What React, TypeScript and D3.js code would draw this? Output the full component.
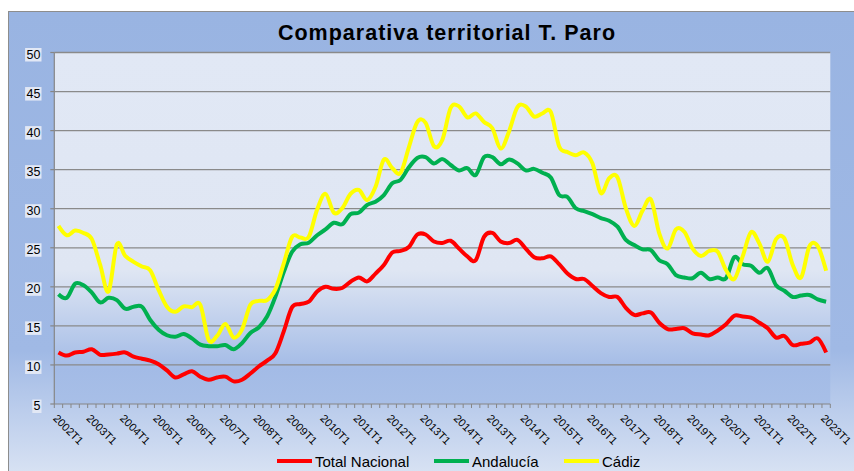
import React, { useEffect, useRef } from 'react';
import * as d3 from 'd3';

// etiquetas del eje X (una cada 4 trimestres, tal como aparecen)
const tickLabels = [
  '2002T1', '2003T1', '2004T1', '2005T1', '2006T1', '2007T1', '2008T1', '2009T1',
  '2010T1', '2011T1', '2012T1', '2013T1', '2014T1', '2013T1', '2014T1', '2015T1',
  '2016T1', '2017T1', '2018T1', '2019T1', '2020T1', '2021T1', '2022T1', '2023T1',
];
const LABEL_EVERY = 4;

const yTicks = [5, 10, 15, 20, 25, 30, 35, 40, 45, 50];

const totalNacional = [
  11.6, 11.2, 11.6, 11.7, 12.0, 11.3, 11.35, 11.45, 11.6, 11.05, 10.8, 10.55, 10.1, 9.3, 8.4, 8.8,
  9.2, 8.5, 8.1, 8.4, 8.5, 7.9, 8.1, 8.9, 9.8, 10.55, 11.5, 14.3, 17.4, 17.8, 18.1, 19.4,
  20.0, 19.75, 19.85, 20.65, 21.2, 20.7, 21.7, 22.8, 24.4, 24.6, 25.1, 26.7, 26.7, 25.8, 25.6, 25.9,
  24.9, 23.9, 23.4, 26.4, 26.9, 25.8, 25.6, 26.0, 24.9, 23.8, 23.65, 23.9, 22.9, 21.7, 21.0, 21.0,
  20.1, 19.2, 18.7, 18.7, 17.3, 16.4, 16.6, 16.7, 15.4, 14.6, 14.6, 14.7, 14.05, 13.9, 13.8, 14.4,
  15.2, 16.3, 16.2, 16.05, 15.4, 14.7, 13.5, 13.7, 12.55, 12.7, 12.85, 13.4, 11.6,
];

const andalucia = [
  19.05, 18.6, 20.4, 20.2, 19.25, 18.0, 18.6, 18.3, 17.2, 17.45, 17.45, 15.75, 14.5, 13.8, 13.6, 13.95,
  13.4, 12.6, 12.4, 12.4, 12.55, 12.0, 12.8, 14.1, 14.8, 16.2, 18.75, 21.9, 24.5, 25.45, 25.65, 26.6,
  27.35, 28.2, 28.0, 29.3, 29.5, 30.5, 30.9, 31.75, 33.25, 33.7, 35.3, 36.5, 36.6, 35.8, 36.35, 35.6,
  34.9, 35.2, 34.3, 36.6, 36.6, 35.7, 36.3, 35.8, 34.9, 35.1, 34.6, 34.0, 31.75, 31.5, 30.05, 29.7,
  29.3, 28.8, 28.45, 27.7, 26.0, 25.35, 24.8, 24.7, 23.4, 22.9, 21.5, 21.2, 21.1, 21.8, 21.0, 21.2,
  21.1, 23.8, 22.9, 22.7, 21.8, 22.4, 20.2, 19.5, 18.7, 18.9, 18.95, 18.4, 18.1,
];

const cadiz = [
  27.8, 26.6, 27.2, 26.9, 26.1, 22.8, 19.4, 25.45, 23.95, 23.2, 22.6, 22.1, 19.6, 17.45, 16.8, 17.5,
  17.4, 17.7, 13.2, 13.7, 15.25, 13.5, 14.55, 17.7, 18.2, 18.3, 19.7, 23.0, 26.4, 26.3, 26.4, 29.9,
  31.9, 29.5, 30.05, 31.9, 32.4, 31.1, 32.8, 36.3, 35.2, 34.6, 37.9, 41.1, 41.0, 38.0, 38.8, 42.9,
  43.1, 41.7, 42.2, 41.1, 40.3, 37.7, 39.9, 43.0, 43.1, 41.8, 42.2, 42.4, 38.0, 37.25, 36.85, 37.2,
  35.8, 32.0, 33.9, 34.0, 30.05, 27.8, 29.75, 31.2, 26.85, 24.9, 27.35, 27.05, 24.9, 23.95, 24.6, 24.5,
  22.15, 21.0, 23.9, 27.0, 25.55, 23.2, 26.1, 26.2, 22.8, 21.2, 25.2, 25.2, 22.05,
];

const series = [
  { name: 'Total Nacional', color: '#ff0000', values: totalNacional },
  { name: 'Andalucía', color: '#00b050', values: andalucia },
  { name: 'Cádiz', color: '#ffff00', values: cadiz },
];

const FONT = '"Liberation Sans", Arial, sans-serif';

const App = () => {
  const svgRef = useRef<SVGSVGElement>(null);

  useEffect(() => {
    const svg = d3.select(svgRef.current);
    svg.selectAll('*').remove();

    const width = 854;
    const height = 471;
    const plot = { left: 54.3, right: 830.3, top: 52.5, bottom: 404 };

    const defs = svg.append('defs');
    const outerGrad = defs.append('linearGradient')
      .attr('id', 'outerGrad').attr('x1', 0).attr('y1', 0).attr('x2', 0).attr('y2', 1);
    outerGrad.append('stop').attr('offset', '0%').attr('stop-color', '#99b4e2');
    outerGrad.append('stop').attr('offset', '72%').attr('stop-color', '#a0b9e5');
    outerGrad.append('stop').attr('offset', '100%').attr('stop-color', '#dce5f4');

    const plotGrad = defs.append('linearGradient')
      .attr('id', 'plotGrad').attr('x1', 0).attr('y1', 0).attr('x2', 0).attr('y2', 1);
    plotGrad.append('stop').attr('offset', '0%').attr('stop-color', '#e1e8f5');
    plotGrad.append('stop').attr('offset', '62%').attr('stop-color', '#dfe6f3');
    plotGrad.append('stop').attr('offset', '90%').attr('stop-color', '#a3bbe6');
    plotGrad.append('stop').attr('offset', '100%').attr('stop-color', '#a8bfe7');

    // marco exterior
    svg.append('rect')
      .attr('x', 8.5).attr('y', 11.5)
      .attr('width', width).attr('height', height)
      .attr('fill', 'url(#outerGrad)')
      .attr('stroke', '#8d8d8d').attr('stroke-width', 1);

    const n = totalNacional.length;
    const x = d3.scaleBand<number>()
      .domain(d3.range(n))
      .range([plot.left, plot.right])
      .padding(0);
    const cx = (i: number) => (x(i) as number) + x.bandwidth() / 2;

    const y = d3.scaleLinear().domain([5, 50]).range([plot.bottom, plot.top]);

    // área de trazado
    svg.append('rect')
      .attr('x', plot.left).attr('y', plot.top)
      .attr('width', plot.right - plot.left).attr('height', plot.bottom - plot.top)
      .attr('fill', 'url(#plotGrad)');

    // líneas de división
    svg.append('g')
      .selectAll('line')
      .data(yTicks.filter(t => t > 5))
      .enter().append('line')
      .attr('x1', plot.left).attr('x2', plot.right)
      .attr('y1', d => y(d)).attr('y2', d => y(d))
      .attr('stroke', '#8a8a8a').attr('stroke-width', 1.3);

    // eje Y
    const yAxis = svg.append('g');
    yAxis.append('line')
      .attr('x1', plot.left).attr('x2', plot.left)
      .attr('y1', plot.top).attr('y2', plot.bottom)
      .attr('stroke', '#868686').attr('stroke-width', 1.2);
    yTicks.forEach(t => {
      const ty = y(t);
      yAxis.append('line')
        .attr('x1', plot.left - 4).attr('x2', plot.left)
        .attr('y1', ty).attr('y2', ty)
        .attr('stroke', '#868686').attr('stroke-width', 1.2);
      const label = String(t);
      const w = label.length * 7.2 + 2;
      yAxis.append('rect')
        .attr('x', 41.5 - w).attr('y', ty - 4.5)
        .attr('width', w).attr('height', 13.5)
        .attr('fill', '#e2e8f5');
      yAxis.append('text')
        .attr('x', 40.5).attr('y', ty + 2.3)
        .attr('text-anchor', 'end')
        .attr('dominant-baseline', 'central')
        .style('font-family', FONT)
        .style('font-size', '12.5px')
        .attr('fill', '#000')
        .text(label);
    });

    // eje X
    const xAxis = svg.append('g');
    xAxis.append('line')
      .attr('x1', plot.left).attr('x2', plot.right)
      .attr('y1', plot.bottom).attr('y2', plot.bottom)
      .attr('stroke', '#868686').attr('stroke-width', 1.2);
    d3.range(n + 1).forEach(k => {
      const tx = plot.left + k * x.bandwidth();
      xAxis.append('line')
        .attr('x1', tx).attr('x2', tx)
        .attr('y1', plot.bottom).attr('y2', plot.bottom + 4)
        .attr('stroke', '#868686').attr('stroke-width', 1);
    });
    tickLabels.forEach((lab, k) => {
      const i = k * LABEL_EVERY;
      xAxis.append('text')
        .attr('transform', `translate(${cx(i) - 6},${plot.bottom + 15}) rotate(45)`)
        .attr('text-anchor', 'start')
        .style('font-family', FONT)
        .style('font-size', '11px')
        .attr('fill', '#000')
        .text(lab);
    });

    // series
    const line = d3.line<number>()
      .x((d, i) => cx(i))
      .y(d => y(d))
      .curve(d3.curveCardinal.tension(0));

    series.forEach(s => {
      svg.append('path')
        .datum(s.values)
        .attr('d', line)
        .attr('fill', 'none')
        .attr('stroke', s.color)
        .attr('stroke-width', 4)
        .attr('stroke-linejoin', 'round');
    });

    // título
    svg.append('text')
      .attr('x', 447).attr('y', 40)
      .attr('text-anchor', 'middle')
      .style('font-family', FONT)
      .style('font-size', '21.5px')
      .style('letter-spacing', '1px')
      .style('font-weight', 'bold')
      .attr('fill', '#000')
      .text('Comparativa territorial T. Paro');

    // leyenda
    const legendX = [277, 434, 564];
    const legend = svg.append('g');
    series.forEach((s, k) => {
      const lx = legendX[k];
      legend.append('line')
        .attr('x1', lx).attr('x2', lx + 35)
        .attr('y1', 461).attr('y2', 461)
        .attr('stroke', s.color).attr('stroke-width', 4);
      legend.append('text')
        .attr('x', lx + 38).attr('y', 461)
        .attr('dominant-baseline', 'central')
        .style('font-family', FONT)
        .style('font-size', '15px')
        .attr('fill', '#000')
        .text(s.name);
    });
  }, []);

  return (
    <div style={{ position: 'absolute', left: 0, top: 0, width: 854, height: 471, background: 'white' }}>
      <svg ref={svgRef} width={854} height={471} style={{ display: 'block' }} />
    </div>
  );
};

export default App;
